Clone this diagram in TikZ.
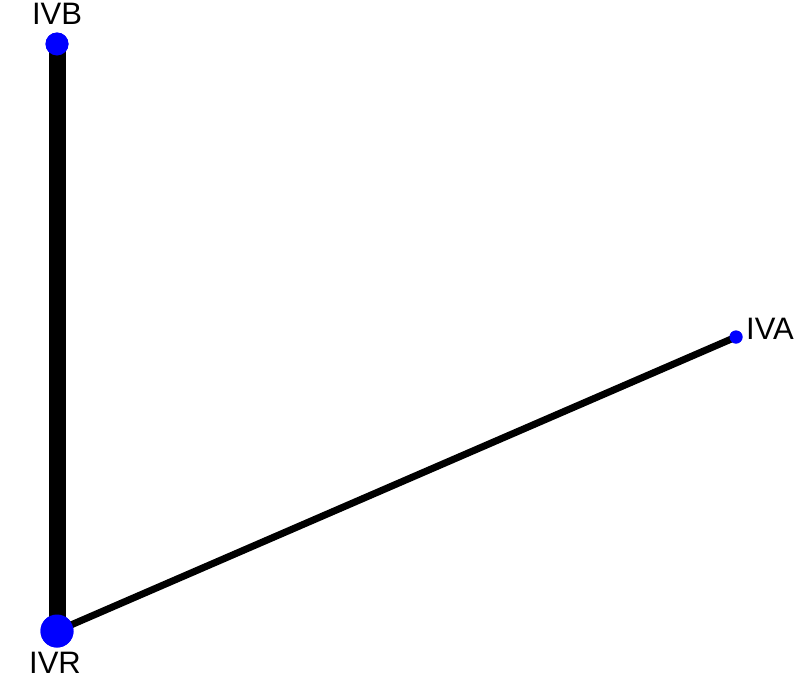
\documentclass[tikz,border=0pt]{standalone}
\usepackage{fontspec}
\setmainfont{Liberation Sans}
\begin{document}
\begin{tikzpicture}[x=1pt,y=-1pt,
  vtx/.style={circle,fill=blue,inner sep=0pt,draw=none},
  lbl/.style={font=\fontsize{31}{31}\selectfont,inner sep=0pt,anchor=base},
  edge/.style={draw=black}]
\useasboundingbox (0,0) rectangle (797,678);
\node[vtx,minimum size=23pt] (IVB) at (57,44) {};
\node[vtx,minimum size=33pt] (IVR) at (57,631) {};
\node[vtx,minimum size=13pt] (IVA) at (736,337) {};
\draw[edge,line width=17pt] (IVB.center) -- (IVR.center);
\draw[edge,line width=7pt] (IVR.center) -- (IVA.center);
\node[vtx,minimum size=23pt] at (IVB) {};
\node[vtx,minimum size=33pt] at (IVR) {};
\node[vtx,minimum size=13pt] at (IVA) {};
\node[lbl] (tIVB) at (57,24) {IVB};
\node[lbl,anchor=base west] (tIVA) at (746,339) {IVA};
\node[lbl] (tIVR) at (55,673) {IVR};
\end{tikzpicture}
\end{document}
